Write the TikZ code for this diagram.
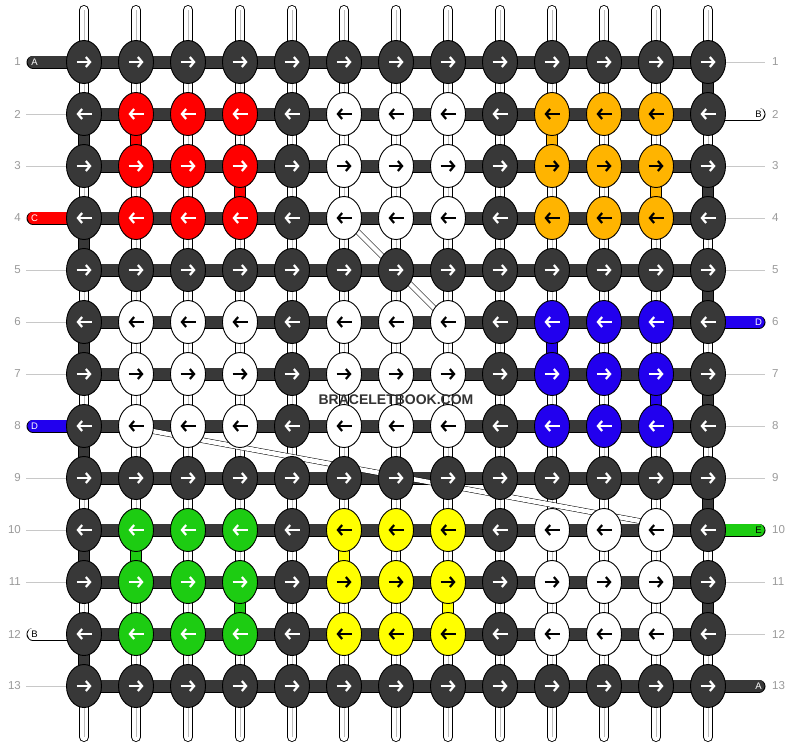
\documentclass[tikz,border=0pt]{standalone}
\usepackage{fontspec}
\setmainfont{Liberation Sans}
\usetikzlibrary{shapes.geometric,arrows.meta,backgrounds}

\definecolor{kd}{HTML}{383838}
\definecolor{kr}{HTML}{FF0000}
\definecolor{ko}{HTML}{FFB400}
\definecolor{kw}{HTML}{FFFFFF}
\definecolor{kb}{HTML}{2200EE}
\definecolor{kg}{HTML}{1DCC12}
\definecolor{ky}{HTML}{FFFF00}
% arrow colour for each knot colour
\colorlet{ad}{white}
\colorlet{ar}{white}
\colorlet{ab}{white}
\colorlet{ag}{white}
\colorlet{ao}{black}
\colorlet{aw}{black}
\colorlet{ay}{black}
\definecolor{numgray}{HTML}{9A9A9A}
\definecolor{rulegray}{HTML}{C8C8C8}
\definecolor{coregray}{HTML}{BDBDBD}
\definecolor{logogray}{HTML}{333333}

\tikzset{
    knot/.style={
           ellipse,
           draw=black, line width=0.9pt,
           minimum width=35pt,
           minimum height=43pt,
           inner sep=0pt},
    warp/.style={
           draw=black, line width=0.9pt,
           double=white, double distance=8.2pt,
           line cap=round},
    warpcore/.style={draw=coregray, line width=0.6pt},
    link/.style={
           draw=black, line width=0.9pt,
           double distance=10pt},
    bar/.style={
           draw=black, line width=0.9pt,
           double=kd, double distance=11.2pt},
    tail/.style={
           draw=black, line width=0.9pt,
           double distance=11.2pt,
           line cap=round},
    carry/.style={
           draw=black, line width=0.5pt,
           double=white, double distance=4.5pt},
    % Define arrow style
    dirarrow/.style={
           line width=2.2pt,
           -{Straight Barb[length=4.2pt,width=10pt]}},
    rownum/.style={text=numgray, font=\fontsize{11.5}{12}\selectfont, inner sep=0pt},
    tailtag/.style={font=\fontsize{9.5}{10}\selectfont, inner sep=0pt},
    rowrule/.style={draw=rulegray, line width=0.6pt}
}

\begin{document}
\begin{tikzpicture}[x=1pt, y=-1pt]
	\useasboundingbox (0,0) rectangle (792,748);

	% knots, row by row
	\foreach [count=\r] \rowcols in {
		{d,d,d,d,d,d,d,d,d,d,d,d,d},
		{d,r,r,r,d,w,w,w,d,o,o,o,d},
		{d,r,r,r,d,w,w,w,d,o,o,o,d},
		{d,r,r,r,d,w,w,w,d,o,o,o,d},
		{d,d,d,d,d,d,d,d,d,d,d,d,d},
		{d,w,w,w,d,w,w,w,d,b,b,b,d},
		{d,w,w,w,d,w,w,w,d,b,b,b,d},
		{d,w,w,w,d,w,w,w,d,b,b,b,d},
		{d,d,d,d,d,d,d,d,d,d,d,d,d},
		{d,g,g,g,d,y,y,y,d,w,w,w,d},
		{d,g,g,g,d,y,y,y,d,w,w,w,d},
		{d,g,g,g,d,y,y,y,d,w,w,w,d},
		{d,d,d,d,d,d,d,d,d,d,d,d,d}} {
		\foreach [count=\c] \kc in \rowcols {
			\node[knot, fill=k\kc] (k\r-\c) at ({32+52*\c}, {10+52*\r}) {};
			\ifodd\r\relax
				\draw[dirarrow, draw=a\kc] ([xshift=-7.5pt]k\r-\c.center) -- ([xshift=7.5pt]k\r-\c.center);
			\else
				\draw[dirarrow, draw=a\kc] ([xshift=7.5pt]k\r-\c.center) -- ([xshift=-7.5pt]k\r-\c.center);
			\fi
		}
	}

	\foreach \r in {1,...,13} {
		\node[rownum, anchor=east] (numl\r) at (21, {10+52*\r}) {\r};
		\node[rownum, anchor=west] (numr\r) at (772, {10+52*\r}) {\r};
	}
	\foreach \c in {1,...,13} {
		\coordinate (top\c) at ({32+52*\c}, 10);
		\coordinate (bot\c) at ({32+52*\c}, 737);
	}

	\node[font=\bfseries\fontsize{14}{14}\selectfont, text=logogray] (logo) at (396,399.5) {BRACELETBOOK.COM};

	\begin{pgfonlayer}{background}
		\fill[white] (0,0) rectangle (792,748);
		% warp strings
		\foreach \c in {1,...,13} {
			\draw[warp] (top\c) -- (bot\c);
			\draw[warpcore] (top\c) -- (bot\c);
		}
		% dark thread turning at the edges
		\foreach \r in {1,...,12} {
			\pgfmathtruncatemacro{\rn}{\r+1}
			\ifodd\r\relax \def\ce{13}\else \def\ce{1}\fi
			\draw[link, double=kd] (k\r-\ce.center) -- (k\rn-\ce.center);
		}
		% coloured threads going down a row
		\foreach \ra/\rb/\cc/\kc in {2/3/2/r, 3/4/4/r, 2/3/10/o, 3/4/12/o, 6/7/10/b, 7/8/12/b,
				10/11/2/g, 11/12/4/g, 10/11/6/y, 11/12/8/y}
			\draw[link, double=k\kc] (k\ra-\cc.center) -- (k\rb-\cc.center);

		\foreach \r in {1,...,13}
			\draw[bar] (k\r-1.center) -- (k\r-13.center);

		% loose ends
		\foreach \r/\kc/\tag/\tc in {1/d/A/white, 4/r/C/white, 8/b/D/white, 12/w/B/black} {
			\coordinate (endl\r) at (33, {10+52*\r});
			\draw[tail, double=k\kc] (k\r-1.center) -- (endl\r);
			\node[tailtag, text=\tc] (tagl\r) at (34.5, {10+52*\r}) {\tag};
		}
		\foreach \r/\kc/\tag/\tc in {2/w/B/black, 6/b/D/white, 10/g/E/black, 13/d/A/white} {
			\coordinate (endr\r) at (759, {10+52*\r});
			\draw[tail, double=k\kc] (k\r-13.center) -- (endr\r);
			\node[tailtag, text=\tc] (tagr\r) at (758.5, {10+52*\r}) {\tag};
		}

		\foreach \r in {2,3,5,6,7,9,10,11,13} {
			\coordinate (rl\r) at (26, {10+52*\r});
			\draw[rowrule] (rl\r) -- (k\r-1.west);
		}
		\foreach \r in {1,3,4,5,7,8,9,11,12} {
			\coordinate (rr\r) at (765, {10+52*\r});
			\draw[rowrule] (k\r-13.east) -- (rr\r);
		}

		\draw[carry] (k4-6.center) -- (k6-8.center);
		\draw[carry] ([yshift=-2pt]k8-2.center) -- ([yshift=6pt]k10-12.center);
	\end{pgfonlayer}
\end{tikzpicture}
\end{document}
